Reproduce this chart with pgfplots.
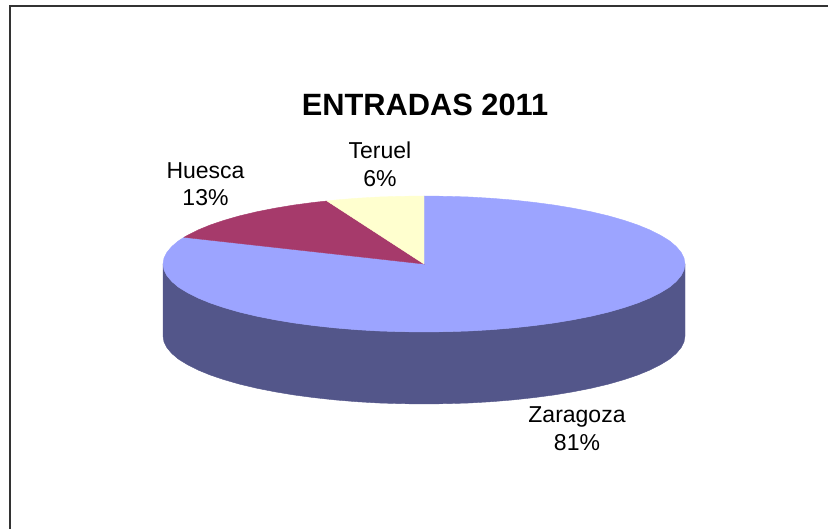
\documentclass[border=0pt]{standalone}
\usepackage{pgfplots}
\pgfplotsset{compat=1.18}
\usepackage{fontspec}
\setmainfont{Liberation Sans}
\definecolor{cTop}{HTML}{9CA4FF}
\definecolor{cSide}{HTML}{53568A}
\definecolor{cHue}{HTML}{A63A6B}
\definecolor{cTer}{HTML}{FFFFCF}
\definecolor{cBord}{HTML}{333333}
\tikzset{lab/.style={anchor=base, font=\fontsize{23}{27}\selectfont, text=black, inner sep=0pt}}
\begin{document}
\begin{tikzpicture}
\begin{axis}[
  scale only axis, width=828pt, height=529pt,
  xmin=0, xmax=828, ymin=0, ymax=529, y dir=reverse,
  hide axis, clip=true,
  every axis plot/.append style={line width=0.4pt},
]
% page background
\addplot[fill=white, draw=none] coordinates {(0,0) (828,0) (828,529) (0,529)} --cycle;
% frame
\addplot[draw=cBord, line width=2pt] coordinates {(9.5,529) (9.5,6.5) (828,6.5)};
% side wall
\addplot[fill=cSide, draw=cSide] coordinates {
(685,264) (684,269.9) (681,275.8) (676.1,281.6) (669.3,287.3) (660.5,292.7) (650,298) (637.8,303) (623.9,307.7) (608.6,312.1) (591.8,316.1) (573.7,319.7) (554.5,322.9) (534.3,325.6) (513.3,327.9) (491.6,329.7) (469.3,331) (446.7,331.7) (424,332)
(401.3,331.7) (378.7,331) (356.4,329.7) (334.7,327.9) (313.7,325.6) (293.5,322.9) (274.3,319.7) (256.2,316.1) (239.4,312.1) (224.1,307.7) (210.2,303) (198,298) (187.5,292.7) (178.7,287.3) (171.9,281.6) (167,275.8) (164,269.9) (163,264)
(163,336) (164,341.9) (167,347.8) (171.9,353.6) (178.7,359.3) (187.5,364.7) (198,370) (210.2,375) (224.1,379.7) (239.4,384.1) (256.2,388.1) (274.3,391.7) (293.5,394.9) (313.7,397.6) (334.7,399.9) (356.4,401.7) (378.7,403) (401.3,403.7) (424,404)
(446.7,403.7) (469.3,403) (491.6,401.7) (513.3,399.9) (534.3,397.6) (554.5,394.9) (573.7,391.7) (591.8,388.1) (608.6,384.1) (623.9,379.7) (637.8,375) (650,370) (660.5,364.7) (669.3,359.3) (676.1,353.6) (681,347.8) (684,341.9) (685,336)
} --cycle;
% Zaragoza 81%
\addplot[fill=cTop, draw=cTop] coordinates {
(424,264) (424,196) (446.7,196.3) (469.3,197) (491.6,198.3) (513.3,200.1) (534.3,202.4) (554.5,205.1) (573.7,208.3) (591.8,211.9) (608.6,215.9) (623.9,220.3) (637.8,225) (650,230) (660.5,235.3) (669.3,240.7) (676.1,246.4) (681,252.2) (684,258.1) (685,264)
(684,269.9) (681,275.8) (676.1,281.6) (669.3,287.3) (660.5,292.7) (650,298) (637.8,303) (623.9,307.7) (608.6,312.1) (591.8,316.1) (573.7,319.7) (554.5,322.9) (534.3,325.6) (513.3,327.9) (491.6,329.7) (469.3,331) (446.7,331.7) (424,332)
(401.3,331.7) (378.7,331) (356.4,329.7) (334.7,327.9) (313.7,325.6) (293.5,322.9) (274.3,319.7) (256.2,316.1) (239.4,312.1) (224.1,307.7) (210.2,303) (198,298) (187.5,292.7) (178.7,287.3) (171.9,281.6) (167,275.8) (164,269.9) (163,264)
(164,258.1) (167,252.2) (171.9,246.4) (178.7,240.7) (184,237.3)
} --cycle;
% Huesca 13%
\addplot[fill=cHue, draw=cHue] coordinates {
(424,264) (327,201) (313.7,202.4) (293.5,205.1) (274.3,208.3) (256.2,211.9) (239.4,215.9) (224.1,220.3) (210.2,225) (198,230) (187.5,235.3) (184,237.3)
} --cycle;
% Teruel 6%
\addplot[fill=cTer, draw=cTer] coordinates {
(424,264) (424,196) (401.3,196.3) (378.7,197) (356.4,198.3) (334.7,200.1) (327,201)
} --cycle;
\node[anchor=base, font=\fontsize{30.8}{34}\selectfont\bfseries, inner sep=0pt] at (axis cs:425,116) {ENTRADAS 2011};
\node[lab] at (axis cs:205.5,179) {Huesca};
\node[lab] at (axis cs:205.5,206) {13\%};
\node[lab] at (axis cs:380,159) {Teruel};
\node[lab] at (axis cs:380,187) {6\%};
\node[lab] at (axis cs:577,423) {Zaragoza};
\node[lab] at (axis cs:577,450) {81\%};
\end{axis}
\end{tikzpicture}
\end{document}
